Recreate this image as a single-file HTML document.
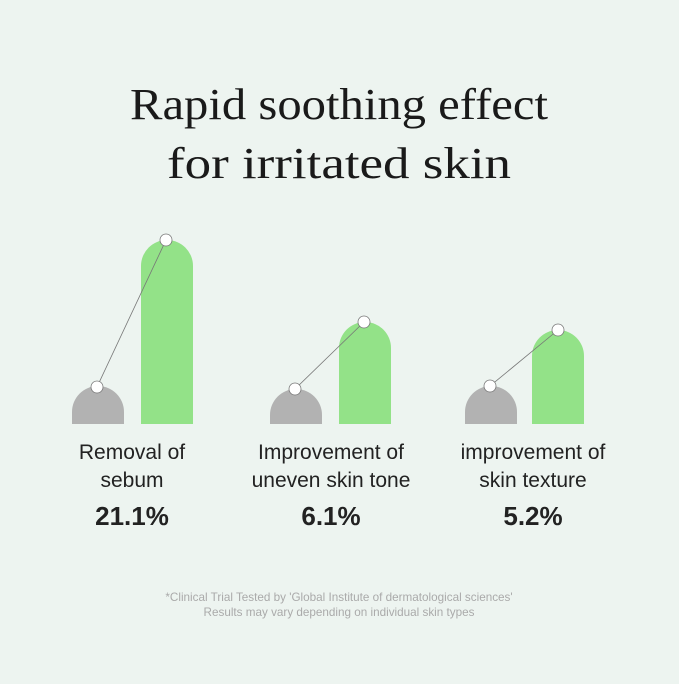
<!DOCTYPE html>
<html><head><style>
html,body{margin:0;padding:0;background:#edf4f0;}
</style></head><body>
<svg width="679" height="679" viewBox="0 0 679 679" xmlns="http://www.w3.org/2000/svg">
<rect width="679" height="679" fill="#edf4f0"/>
<g font-family="Liberation Serif, serif" fill="#1a1a1a" font-size="44" text-anchor="middle">
<text x="339" y="119" textLength="418" lengthAdjust="spacingAndGlyphs">Rapid soothing effect</text>
<text x="339" y="178" textLength="344" lengthAdjust="spacingAndGlyphs">for irritated skin</text>
</g>
<g fill="#b2b2b2">
<path d="M72,424 V412 A26,26 0 0 1 124,412 V424 Z"/>
<path d="M270,424 V415 A26,26 0 0 1 322,415 V424 Z"/>
<path d="M465,424 V412 A26,26 0 0 1 517,412 V424 Z"/>
</g>
<g fill="#93e288">
<path d="M141,424 V266 A26,26 0 0 1 193,266 V424 Z"/>
<path d="M339,424 V348 A26,26 0 0 1 391,348 V424 Z"/>
<path d="M532,424 V356 A26,26 0 0 1 584,356 V424 Z"/>
</g>
<g stroke="#777" stroke-width="0.8">
<line x1="97" y1="387" x2="166" y2="240"/>
<line x1="295" y1="389" x2="364" y2="322"/>
<line x1="490" y1="386" x2="558" y2="330"/>
</g>
<g fill="#fff" stroke="#777" stroke-width="0.8">
<circle cx="97" cy="387" r="6"/><circle cx="166" cy="240" r="6"/>
<circle cx="295" cy="389" r="6"/><circle cx="364" cy="322" r="6"/>
<circle cx="490" cy="386" r="6"/><circle cx="558" cy="330" r="6"/>
</g>
<g font-family="Liberation Sans, sans-serif" fill="#222" font-size="21" text-anchor="middle">
<text x="132" y="459">Removal of</text><text x="132" y="487">sebum</text>
<text x="331" y="459">Improvement of</text><text x="331" y="487">uneven skin tone</text>
<text x="533" y="459">improvement of</text><text x="533" y="487">skin texture</text>
</g>
<g font-family="Liberation Sans, sans-serif" fill="#222" font-size="26" font-weight="bold" text-anchor="middle">
<text x="132" y="525">21.1%</text><text x="331" y="525">6.1%</text><text x="533" y="525">5.2%</text>
</g>
<g font-family="Liberation Sans, sans-serif" fill="#aaa" font-size="11.7" text-anchor="middle">
<text x="339" y="601">*Clinical Trial Tested by 'Global Institute of dermatological sciences'</text>
<text x="339" y="616">Results may vary depending on individual skin types</text>
</g>
</svg>
</body></html>
